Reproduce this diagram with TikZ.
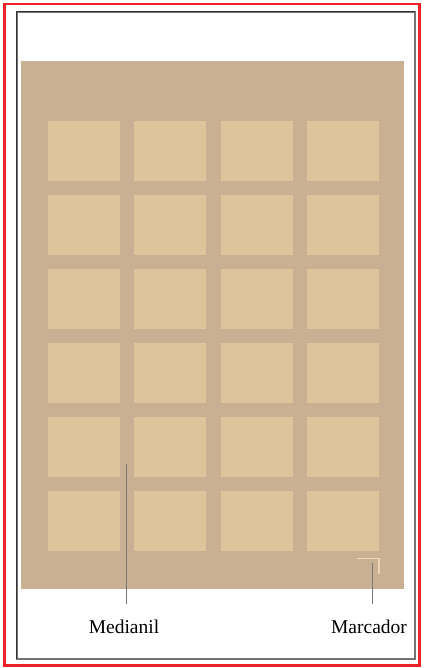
\documentclass[tikz,border=0pt]{standalone}
\usepackage{fontspec}
\setmainfont{Liberation Serif}
\definecolor{pagetan}{RGB}{201,176,146}
\definecolor{celltan}{RGB}{222,195,155}
\definecolor{marktan}{RGB}{236,214,178}
\definecolor{framered}{RGB}{236,34,38}
\definecolor{leadgray}{RGB}{120,120,120}
\begin{document}
\begin{tikzpicture}[x=1pt,y=-1pt,
  cellbox/.style={fill=celltan,draw=none},
  leader/.style={draw=leadgray,line width=1.1pt},
  lbl/.style={font=\fontsize{19.5}{22}\selectfont,anchor=base,inner sep=0pt}]
\useasboundingbox (0,0) rectangle (423,668);
\fill[white] (0,0) rectangle (423,668);
\draw[framered,line width=2.8pt] (4.3,4) rectangle (419.7,665.5);
\draw[black!55,line width=2pt] (16.5,11.8) -- (415.2,11.8) -- (415.2,658.6) -- (16.5,658.6) -- cycle;
\draw[black!80,line width=0.8pt] (16.2,658.6) -- (16.2,11.5) -- (415.2,11.5);
\fill[pagetan] (21,61) rectangle (404,589.3);
\foreach \r in {0,...,5}{
  \foreach \c in {0,...,3}{
    \fill[celltan] ({48+86.33*\c},{121+73.95*\r}) rectangle ++(72,60);
  }
}
\draw[marktan,line width=1.1pt] (356.5,558.7) -- (379,558.7) -- (379,574);
\coordinate (m1) at (126.7,464.3);
\coordinate (m2) at (126.7,604);
\coordinate (k1) at (372.3,562.7);
\coordinate (k2) at (372.3,604);
\node[lbl] (medianil) at (124,633) {Medianil};
\node[lbl] (marcador) at (369,633) {Marcador};
\draw[leader] (m1) -- (m2);
\draw[leader] (k1) -- (k2);
\end{tikzpicture}
\end{document}
